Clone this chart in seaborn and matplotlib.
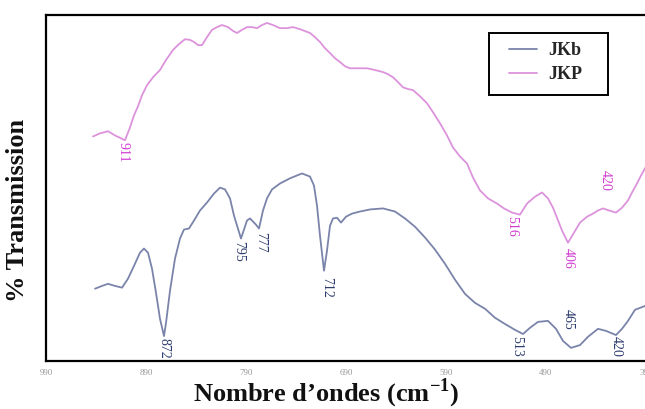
import matplotlib
matplotlib.use("Agg")
import matplotlib.pyplot as plt
from matplotlib.patches import Rectangle
import seaborn as sns
import pandas as pd

# FTIR spectra: wavenumber (cm-1) and transmission (%)
jkb_wavenumber = [941, 934, 928, 921, 914, 908, 902, 896, 892, 888, 884, 880, 876, 872, 870,
                  866, 861, 856, 852, 847, 842, 836, 829, 822, 816, 811, 806, 802, 795, 792,
                  789, 786, 783, 780, 777, 773, 769, 764, 756, 746, 734, 726, 722, 719, 716,
                  712, 709, 706, 703, 699, 695, 690, 684, 676, 666, 653, 641, 631, 621, 611,
                  601, 591, 581, 571, 561, 551, 541, 531, 521, 513, 506, 498, 488, 480, 473,
                  465, 456, 448, 438, 430, 420, 414, 408, 401, 391, 386]
jkb_transmission = [20.9, 21.7, 22.3, 21.7, 21.2, 23.8, 27.5, 31.3, 32.5, 31.3, 26.7, 19.7, 12.2, 7.2, 11.0,
                    20.3, 29.6, 35.4, 38.0, 38.3, 40.6, 43.5, 45.8, 48.4, 50.1, 49.6, 47.0, 42.0, 35.4, 38.0,
                    40.6, 41.2, 40.3, 39.4, 38.3, 43.5, 47.0, 49.6, 51.3, 52.8, 54.2, 53.3, 50.7, 44.9, 36.2,
                    26.1, 31.9, 39.1, 41.2, 41.4, 40.0, 41.7, 42.6, 43.2, 43.8, 44.1, 43.2, 41.2, 38.8, 35.7,
                    32.2, 28.1, 23.5, 19.4, 16.8, 15.1, 12.5, 10.7, 9.0, 7.8, 9.6, 11.3, 11.6, 9.3, 5.8,
                    3.8, 4.6, 7.0, 9.3, 8.7, 7.5, 9.3, 11.6, 14.8, 15.9, 16.2]

jkp_wavenumber = [943, 936, 928, 921, 911, 906, 902, 898, 894, 889, 883, 876, 870, 863, 857,
                  851, 846, 842, 838, 834, 829, 824, 819, 814, 808, 803, 799, 794, 789, 784,
                  779, 774, 769, 763, 756, 749, 743, 736, 726, 721, 716, 711, 706, 701, 696,
                  691, 686, 678, 669, 661, 653, 648, 643, 638, 633, 628, 623, 616, 609, 603,
                  596, 589, 583, 576, 569, 563, 556, 548, 539, 532, 524, 516, 509, 501, 494,
                  488, 483, 479, 474, 468, 462, 456, 449, 443, 438, 433, 427, 420, 414, 408,
                  404, 399, 395, 391, 386]
jkp_transmission = [64.9, 65.8, 66.4, 65.2, 63.8, 67.5, 71.0, 73.6, 76.8, 79.7, 82.0, 84.1, 87.0, 89.9, 91.6,
                    93.0, 92.8, 92.2, 91.3, 91.3, 93.6, 95.7, 96.5, 97.1, 96.5, 95.4, 94.8, 95.7, 96.5, 96.5,
                    96.2, 97.1, 97.7, 97.1, 96.2, 96.2, 96.5, 95.9, 94.8, 93.6, 92.2, 90.4, 89.0, 87.5, 86.4,
                    85.2, 84.6, 84.6, 84.6, 84.1, 83.5, 82.9, 82.0, 80.6, 79.1, 78.6, 78.3, 76.5, 74.5, 71.9,
                    68.7, 65.2, 61.7, 59.1, 57.1, 53.0, 49.3, 47.0, 45.5, 44.1, 42.9, 42.3, 45.5, 47.5, 48.7,
                    47.0, 44.3, 41.4, 37.7, 34.2, 37.1, 40.0, 41.7, 42.6, 43.5, 44.1, 43.5, 42.9, 44.3, 46.4,
                    48.7, 51.3, 53.6, 55.7, 57.7]

# Band annotations: position on the curve and the printed band text
jkb_bands = [872, 795, 777, 712, 513, 465, 420]
jkb_band_text = ["872", "795", "777", "712", "513", "465", "420"]
jkp_bands = [911, 516, 468, 420]
jkp_band_text = ["911", "516", "406", "420"]

xtick_values = [990, 890, 790, 690, 590, 490, 390]

series_names = ["JKb", "JKP"]
line_colors = {"JKb": "#7a84aa", "JKP": "#dc93dc"}
jkb_label_color = "#2d3c6e"
jkp_label_color = "#d23cd2"

df = pd.concat([
    pd.DataFrame({"wavenumber": jkb_wavenumber, "transmission": jkb_transmission, "sample": "JKb"}),
    pd.DataFrame({"wavenumber": jkp_wavenumber, "transmission": jkp_transmission, "sample": "JKP"}),
], ignore_index=True)

sns.set_theme(style="white")
plt.rcParams["font.family"] = ["Liberation Serif", "DejaVu Serif"]
plt.rcParams["mathtext.fontset"] = "custom"
plt.rcParams["mathtext.rm"] = "Liberation Serif:bold"
plt.rcParams["mathtext.bf"] = "Liberation Serif:bold"

W, H = 645, 409
fig = plt.figure(figsize=(W / 100, H / 100), dpi=100)
ax_left, ax_bottom, ax_w, ax_h = 46, 361, 604, 346   # axes box in pixels
ax = fig.add_axes([ax_left / W, (H - ax_bottom) / H, ax_w / W, ax_h / H])

sns.lineplot(data=df, x="wavenumber", y="transmission", hue="sample", hue_order=series_names,
             palette=line_colors, sort=False, estimator=None, linewidth=1.3, ax=ax)

ax.set_xlim(990, 386)
ax.set_ylim(0, 100)

ax.set_xticks(xtick_values)
ax.set_xticklabels([str(v) for v in xtick_values], fontsize=6.5, color="#999999")
ax.set_yticks([])
ax.tick_params(axis="x", direction="out", length=3, width=0.8, color="#a0a0a0", pad=3)

for side in ["left", "top", "bottom"]:
    ax.spines[side].set_color("black")
    ax.spines[side].set_linewidth(1.6)
ax.spines["right"].set_visible(False)

ax.set_xlabel("")
ax.set_ylabel("")
fig.text(326 / W, (H - 401) / H, "Nombre d’ondes (cm$^{\\mathbf{-1}}$)", fontsize=19,
         fontweight="bold", color="#111111", ha="center", va="baseline")
fig.text(18 / W, (H - 210) / H, "% Transmission", fontsize=19, fontweight="bold",
         color="#111111", rotation=90, ha="center", va="center")


def value_at(xs, ys, x0):
    return ys[xs.index(x0)]


jkb_offsets = [(0, -2), (-2, -2), (2, -4), (3, -6), (-6, -2), (-3, 18), (0, -1)]
for w, txt, (dx, dy) in zip(jkb_bands, jkb_band_text, jkb_offsets):
    y = value_at(jkb_wavenumber, jkb_transmission, w)
    va = "bottom" if dy > 0 else "top"
    ax.annotate(txt, (w, y), xytext=(dx, dy), textcoords="offset pixels", rotation=-90,
                ha="center", va=va, fontsize=10, color=jkb_label_color)

jkp_offsets = [(-2, -2), (-8, -1), (0, -5), (-11, 22)]
for w, txt, (dx, dy) in zip(jkp_bands, jkp_band_text, jkp_offsets):
    y = value_at(jkp_wavenumber, jkp_transmission, w)
    va = "bottom" if dy > 0 else "top"
    ax.annotate(txt, (w, y), xytext=(dx, dy), textcoords="offset pixels", rotation=-90,
                ha="center", va=va, fontsize=10, color=jkp_label_color)


def to_axes(px, py):
    return (px - ax_left) / ax_w, (ax_bottom - py) / ax_h


# Legend frame and entries
fx0, fy0 = to_axes(489, 95)
fx1, fy1 = to_axes(608, 33)
frame = Rectangle((fx0, fy0), fx1 - fx0, fy1 - fy0, transform=ax.transAxes,
                  facecolor="white", edgecolor="black", linewidth=1.4, zorder=4)
ax.add_patch(frame)

leg = ax.legend(title=None, loc="upper left", bbox_to_anchor=to_axes(509, 42),
                borderaxespad=0, borderpad=0, frameon=False,
                handlelength=1.55, handletextpad=0.65, labelspacing=0.4,
                prop={"weight": "bold", "size": 13})
leg.set_zorder(5)
for line in leg.get_lines():
    line.set_linewidth(1.3)

fig.savefig("out.png", dpi=100)
